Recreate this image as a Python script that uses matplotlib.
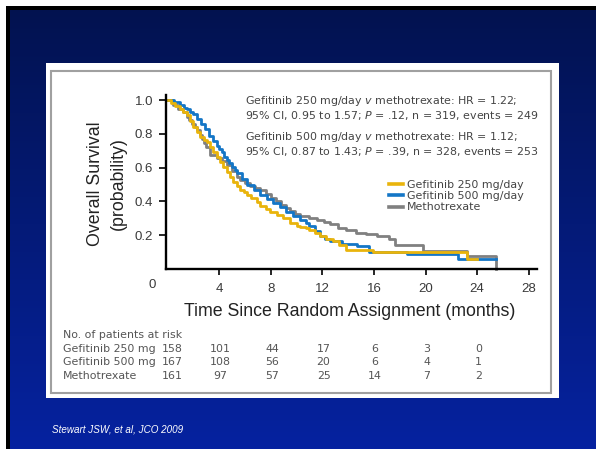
import numpy as np
import matplotlib
matplotlib.use('Agg')
import matplotlib.pyplot as plt
from matplotlib.patches import Rectangle
from matplotlib.lines import Line2D
import matplotlib.transforms as mtransforms

plt.rcParams['font.family'] = ['DejaVu Sans']
plt.rcParams['mathtext.fontset'] = 'dejavusans'

# ---------------- data ----------------
g250_t = [0, 0.3, 0.6, 0.97, 1.2, 1.49, 1.75, 2.0, 2.25, 2.52, 2.8, 3.05, 3.3, 3.55, 3.8, 4.05,
          4.3, 4.6, 4.85, 5.1, 5.36, 5.6, 5.9, 6.14, 6.5, 6.9, 7.2, 7.6, 7.95, 8.5, 8.98, 9.5,
          10.0, 10.3, 10.7, 11.0, 11.4, 11.8, 12.3, 12.8, 13.3, 13.8, 15.9, 23.2, 24.0]
g250_s = [1.0, 0.98, 0.965, 0.95, 0.93, 0.91, 0.875, 0.84, 0.81, 0.78, 0.765, 0.75, 0.72, 0.69,
          0.665, 0.635, 0.605, 0.575, 0.546, 0.515, 0.49, 0.47, 0.455, 0.44, 0.42, 0.395,
          0.375, 0.355, 0.339, 0.32, 0.30, 0.275, 0.255, 0.25, 0.24, 0.23, 0.215, 0.195, 0.18,
          0.165, 0.145, 0.115, 0.10, 0.057, 0.057]

g500_t = [0, 0.5, 1.0, 1.25, 1.5, 1.75, 2.0, 2.3, 2.6, 2.9, 3.2, 3.5, 3.8, 4.0, 4.2, 4.4, 4.6,
          4.8, 5.0, 5.2, 5.4, 5.8, 6.2, 6.7, 7.2, 7.7, 8.2, 8.7, 9.2, 9.7, 10.3, 10.7, 11.0,
          11.4, 11.8, 12.2, 12.6, 13.5, 14.7, 15.6, 18.6, 22.5, 25.5]
g500_s = [1.0, 0.99, 0.97, 0.955, 0.945, 0.93, 0.92, 0.89, 0.86, 0.83, 0.79, 0.76, 0.73, 0.71,
          0.69, 0.665, 0.645, 0.625, 0.605, 0.585, 0.567, 0.53, 0.50, 0.47, 0.44, 0.415, 0.39,
          0.365, 0.34, 0.315, 0.293, 0.275, 0.254, 0.225, 0.195, 0.175, 0.165, 0.15, 0.137,
          0.10, 0.088, 0.059, 0.059]

mtx_t = [0, 0.4, 0.8, 1.2, 1.5, 1.7, 1.9, 2.1, 2.3, 2.5, 2.7, 2.85, 3.0, 3.3, 3.8, 4.2, 4.6,
         5.0, 5.4, 5.6, 6.0, 6.4, 6.8, 7.2, 7.6, 8.0, 8.4, 8.8, 9.2, 9.5, 9.9, 10.3, 11.0,
         11.6, 12.1, 12.6, 13.2, 13.8, 14.6, 15.4, 16.2, 17.2, 17.6, 19.8, 23.2, 25.5]
mtx_s = [1.0, 0.97, 0.95, 0.93, 0.90, 0.88, 0.86, 0.84, 0.82, 0.795, 0.77, 0.745, 0.72, 0.675,
         0.655, 0.64, 0.616, 0.58, 0.547, 0.528, 0.51, 0.49, 0.48, 0.469, 0.445, 0.42, 0.40,
         0.38, 0.36, 0.342, 0.325, 0.313, 0.303, 0.29, 0.28, 0.265, 0.245, 0.23, 0.215,
         0.205, 0.196, 0.176, 0.142, 0.105, 0.078, 0.0]

series_labels = ['Gefitinib 250 mg/day', 'Gefitinib 500 mg/day', 'Methotrexate']

x_ticks = [4, 8, 12, 16, 20, 24, 28]
y_ticks = [0.2, 0.4, 0.6, 0.8, 1.0]
y_tick_labels = ['0.2', '0.4', '0.6', '0.8', '1.0']

risk_times = [0, 4, 8, 12, 16, 20, 24]
risk_rows = ['Gefitinib 250 mg', 'Gefitinib 500 mg', 'Methotrexate']
risk_g250 = [158, 101, 44, 17, 6, 3, 0]
risk_g500 = [167, 108, 56, 20, 6, 4, 1]
risk_mtx = [161, 97, 57, 25, 14, 7, 2]

stats_lines = [
    r'Gefitinib 250 mg/day $\mathit{v}$ methotrexate: HR = 1.22;',
    r'95% CI, 0.95 to 1.57; $\mathit{P}$ = .12, n = 319, events = 249',
    r'Gefitinib 500 mg/day $\mathit{v}$ methotrexate: HR = 1.12;',
    r'95% CI, 0.87 to 1.43; $\mathit{P}$ = .39, n = 328, events = 253',
]

# ---------------- figure ----------------
W, H = 596, 449
fig = plt.figure(figsize=(W / 100, H / 100), dpi=100)

bg = fig.add_axes([0, 0, 1, 1], zorder=-5)
bg.set_xlim(0, W)
bg.set_ylim(H, 0)
bg.axis('off')
grad = np.linspace(0, 1, 256)[:, None, None]
top = np.array([2, 18, 78]) / 255
bot = np.array([6, 34, 160]) / 255
img = top + (bot - top) * grad
bg.imshow(img, extent=[0, W, H, 0], aspect='auto')
bg.add_patch(Rectangle((0, 0), W, 6, color='white', lw=0))
bg.add_patch(Rectangle((0, 0), 6, H, color='white', lw=0))
bg.add_patch(Rectangle((6, 6), W - 6, 3.5, color='black', lw=0))
bg.add_patch(Rectangle((6, 6), 3.5, H - 6, color='black', lw=0))
bg.add_patch(Rectangle((46, 63), 513, 335, color='white', lw=0))
bg.add_patch(Rectangle((51, 71), 500, 322, fill=False, ec='#a0a0a0', lw=1.5))

ax = fig.add_axes([165.7 / W, 1 - 269 / H, 371.3 / W, 174 / H])
ax.set_facecolor('none')
ax.set_xlim(-0.14, 28.64)
ax.set_ylim(0, 1.03)

colors = {'g250': '#E9B40C', 'g500': '#1476C6', 'mtx': '#808080'}
ax.plot(mtx_t, mtx_s, drawstyle='steps-post', color=colors['mtx'], lw=2.0, clip_on=False)
ax.plot(g500_t, g500_s, drawstyle='steps-post', color=colors['g500'], lw=2.0, clip_on=False)
ax.plot(g250_t, g250_s, drawstyle='steps-post', color=colors['g250'], lw=2.0, clip_on=False)

for sp in ['top', 'right']:
    ax.spines[sp].set_visible(False)
for sp in ['left', 'bottom']:
    ax.spines[sp].set_linewidth(1.7)
    ax.spines[sp].set_color('black')
    ax.spines[sp].set_zorder(5)
ax.set_xticks(x_ticks)
ax.set_xticklabels([str(v) for v in x_ticks])
ax.set_yticks(y_ticks)
ax.set_yticklabels(y_tick_labels)
tick_font = ['Liberation Sans', 'DejaVu Sans']
ax.tick_params(axis='y', length=5, width=1.2, color='black', labelsize=9.5,
               labelcolor='#3a3a3a', pad=4)
ax.tick_params(axis='x', length=4, width=1.2, color='black', labelsize=9.5,
               labelcolor='#3a3a3a', pad=6)
for lab in ax.get_xticklabels() + ax.get_yticklabels():
    lab.set_family(tick_font)
ax.text(-1.15, -0.095, '0', ha='center', va='center', fontsize=9.5, color='#3a3a3a',
        family=tick_font, clip_on=False)

big = ['Liberation Sans Narrow', 'Liberation Sans', 'DejaVu Sans']
fig.text(350 / W, 1 - 312 / H, 'Time Since Random Assignment (months)', ha='center',
         va='center', fontsize=12.8, color='#222222', family=big)
fig.text(96 / W, 1 - 183.5 / H, 'Overall Survival', ha='center', va='center', rotation=90,
         fontsize=12.8, color='#222222', family=big)
fig.text(118 / W, 1 - 183.5 / H, '(probability)', ha='center', va='center', rotation=90,
         fontsize=12.8, color='#222222', family=big)

for line, yy in zip(stats_lines, [100.7, 115.7, 136.7, 151.0]):
    fig.text(245 / W, 1 - yy / H, line, ha='left', va='center', fontsize=7.95, color='#444444')

handles = [Line2D([], [], color=colors[k], lw=2.6) for k in ['g250', 'g500', 'mtx']]
leg = ax.legend(handles, series_labels, loc='upper left', bbox_to_anchor=(389 / W, 1 - 179.5 / H),
                bbox_transform=fig.transFigure, frameon=False, fontsize=7.9, handlelength=1.3,
                handletextpad=0.36, labelspacing=0.13, borderpad=0, borderaxespad=0)
for t in leg.get_texts():
    t.set_color('#444444')

fig.text(63 / W, 1 - 335 / H, 'No. of patients at risk', ha='left', va='center', fontsize=7.9,
         color='#555555')
trans = mtransforms.blended_transform_factory(ax.transData, fig.transFigure)
for row, vals, yy in zip(risk_rows, [risk_g250, risk_g500, risk_mtx], [349, 361.7, 375.7]):
    fig.text(63 / W, 1 - yy / H, row, ha='left', va='center', fontsize=7.9, color='#555555')
    for t, v in zip(risk_times, vals):
        xoff = 0.4 if t == 0 else 0.1
        ax.text(t + xoff, 1 - yy / H, str(v), transform=trans, ha='center', va='center',
                fontsize=7.9, color='#555555', clip_on=False)

fig.text(52 / W, 1 - 430 / H, 'Stewart JSW, et al, JCO 2009', ha='left', va='center',
         fontsize=7.1, style='italic', color='white', family=['Liberation Sans', 'DejaVu Sans'])

fig.savefig('out.png', dpi=100)
